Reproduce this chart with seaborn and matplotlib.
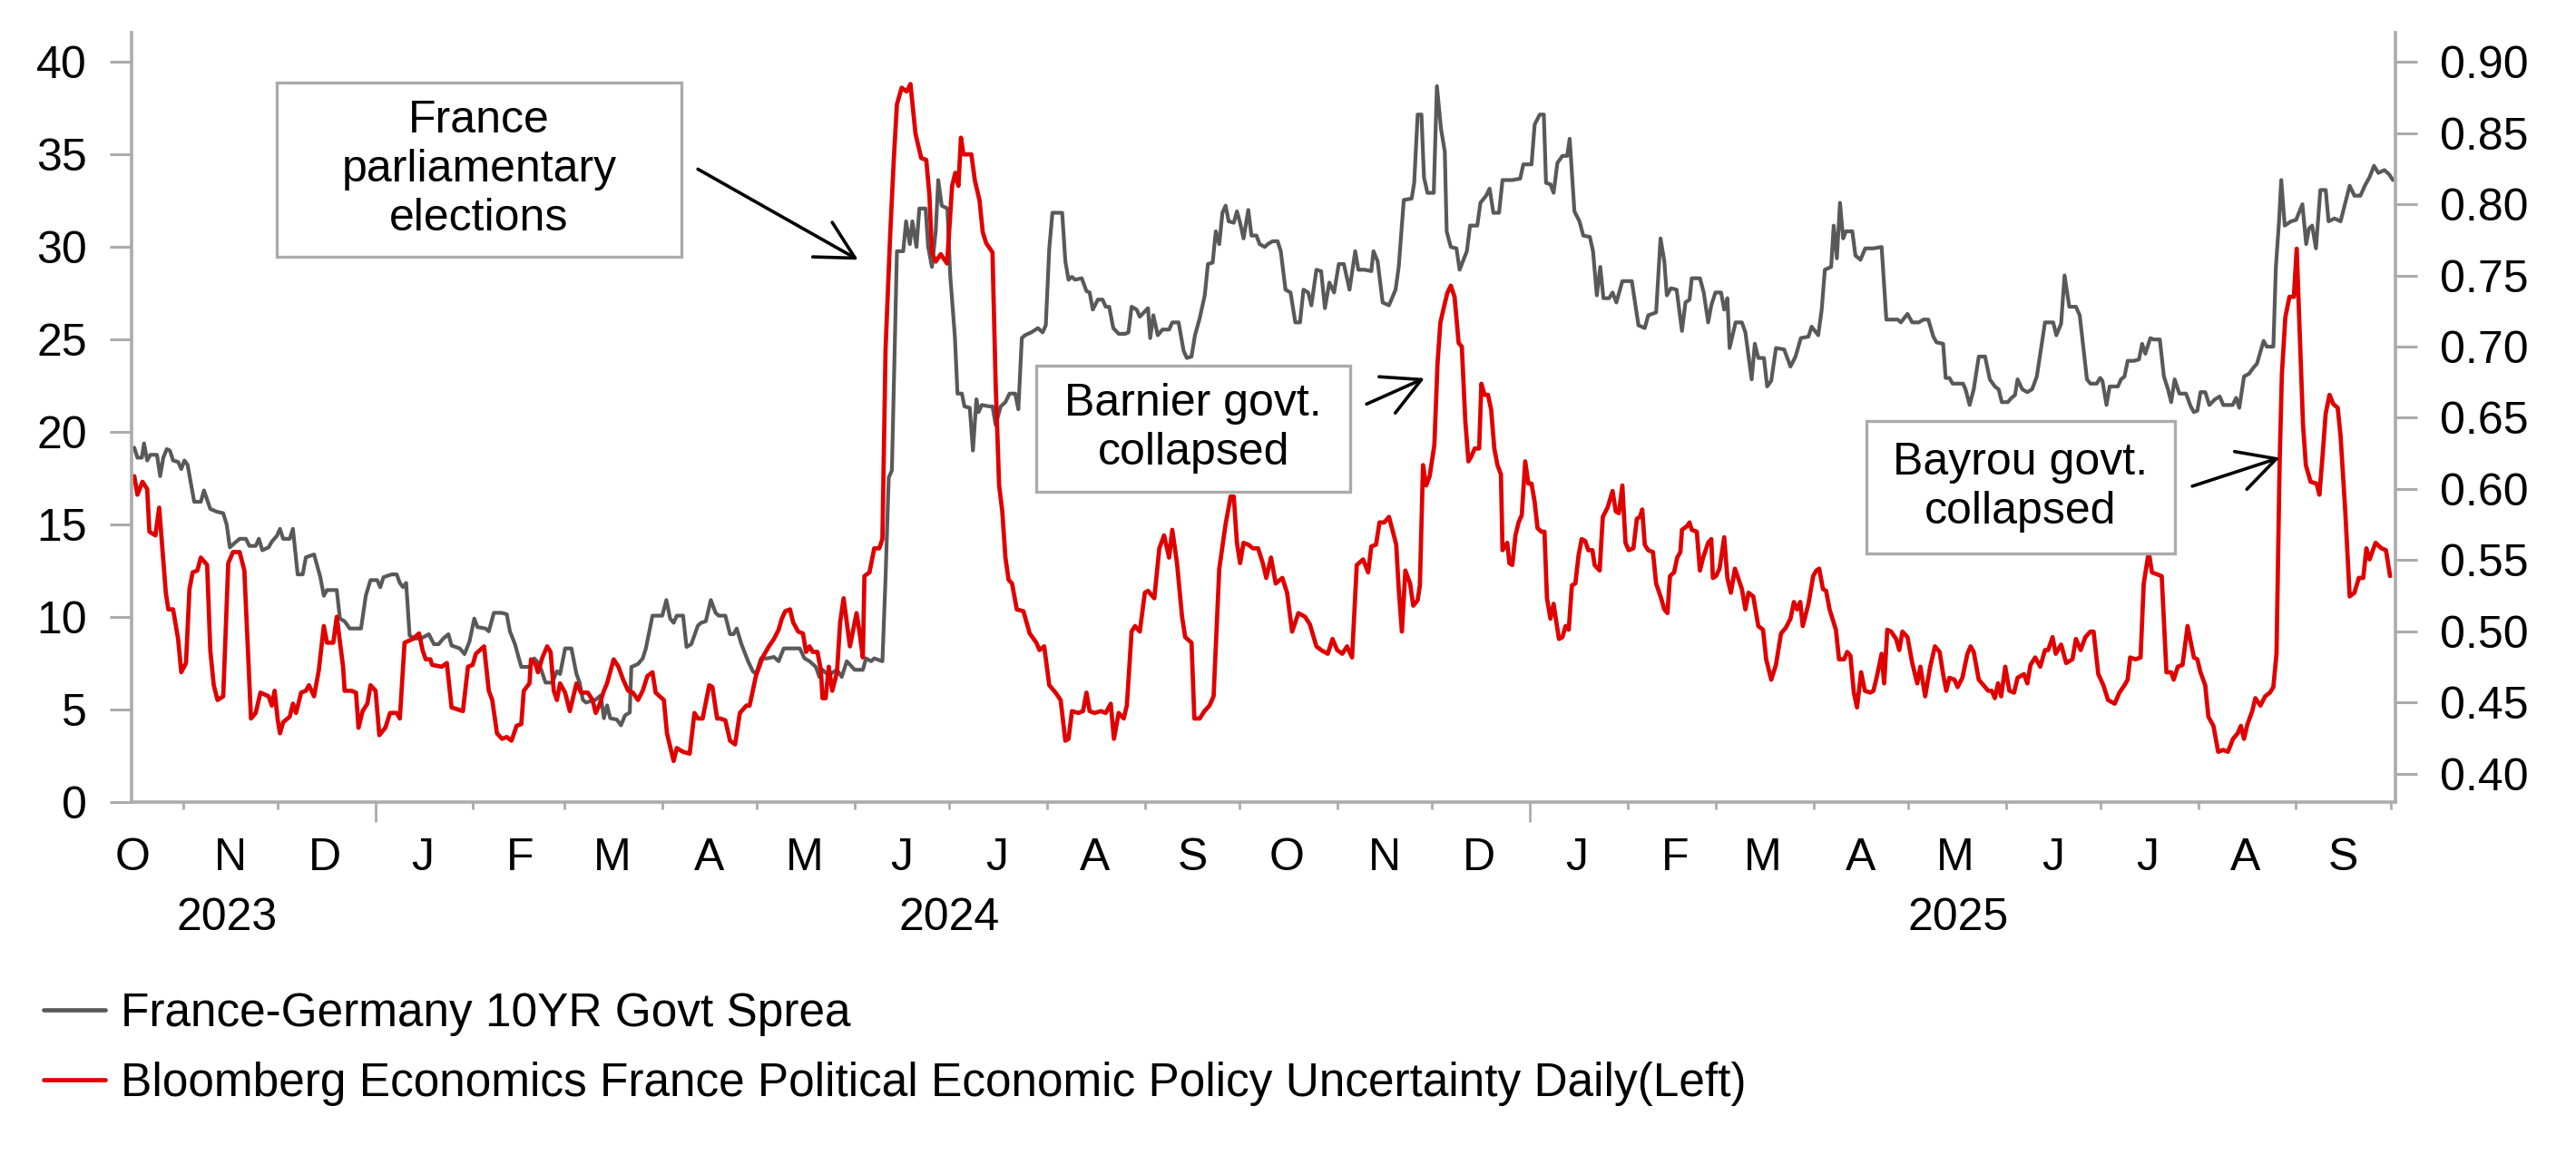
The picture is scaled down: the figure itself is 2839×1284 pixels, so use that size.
import matplotlib
matplotlib.use("Agg")
import matplotlib.dates as mdates
import matplotlib.pyplot as plt
import matplotlib.transforms as mtransforms
import numpy as np
import pandas as pd
import seaborn as sns
from matplotlib.lines import Line2D
from matplotlib.patches import Rectangle

# x positions are days counted from 2024-01-01
BASE = pd.Timestamp("2024-01-01")

# Bloomberg Economics France political EPU (left axis)
red_day = [
    -76.4, -75.4, -73.8, -72.3, -71.6, -69.7, -68.5, -66.4, -65.6, -64.1,
    -62.5, -61.5, -60.0, -58.9, -57.9, -56.4, -55.3, -53.3, -52.3, -51.2,
    -50.0, -48.2, -46.6, -45.1, -43.0, -41.5, -39.4, -37.9, -36.4, -33.8,
    -32.8, -31.9, -30.9, -30.2, -29.2, -27.1, -26.1, -25.1, -23.5, -22.0,
    -21.0, -19.4, -17.9, -16.3, -15.3, -13.3, -12.2, -10.2, -9.7, -7.6,
    -6.1, -5.3, -4.0, -2.5, -1.5, 0.1, 1.3, 3.2, 4.7, 6.8,
    7.8, 9.3, 11.9, 13.9, 15.0, 16.0, 17.5, 18.0, 21.1, 22.7,
    24.2, 27.8, 29.4, 30.9, 31.9, 34.5, 36.0, 37.1, 38.6, 40.2,
    41.7, 43.2, 44.8, 46.3, 47.1, 48.9, 49.4, 50.9, 51.6, 53.0,
    54.5, 55.6, 56.6, 57.6, 58.6, 60.2, 61.7, 63.8, 65.3, 67.4,
    68.9, 69.9, 71.0, 72.5, 73.5, 75.6, 77.1, 78.6, 80.2, 81.7,
    83.3, 84.8, 86.3, 87.9, 88.9, 91.5, 92.5, 94.6, 95.6, 97.6,
    99.7, 101.2, 102.3, 103.8, 105.9, 106.9, 108.4, 109.4, 111.0, 112.5,
    114.1, 115.6, 117.7, 118.7, 120.7, 122.8, 124.8, 126.4, 127.9, 128.9,
    130.0, 131.5, 132.5, 134.1, 135.6, 136.6, 137.7, 138.7, 140.2, 141.3,
    141.8, 142.8, 143.8, 144.9, 146.4, 147.4, 148.5, 150.5, 152.6, 153.6,
    154.6, 155.1, 156.7, 158.2, 159.8, 160.8, 161.8, 163.3, 164.4, 165.4,
    166.9, 168.5, 169.7, 171.3, 173.1, 174.7, 175.7, 176.5, 177.7, 179.3,
    181.3, 182.9, 183.9, 184.9, 185.7, 186.5, 189.0, 190.1, 191.6, 192.6,
    193.7, 195.7, 196.7, 197.8, 198.8, 199.8, 200.8, 201.9, 203.4, 205.5,
    207.5, 209.6, 210.6, 212.1, 213.7, 215.7, 217.3, 218.8, 219.8, 220.9,
    222.9, 224.4, 225.5, 226.5, 228.0, 230.1, 231.6, 233.2, 234.2, 235.7,
    237.3, 238.3, 239.8, 240.9, 242.4, 244.0, 245.0, 247.0, 248.6, 250.1,
    251.7, 252.7, 254.2, 255.8, 256.8, 258.8, 259.7, 261.4, 262.9, 264.5,
    265.8, 267.6, 269.6, 271.2, 272.2, 273.2, 274.2, 275.3, 276.8, 278.3,
    279.9, 281.4, 282.5, 284.0, 285.5, 287.6, 289.1, 290.7, 292.7, 294.8,
    296.3, 298.4, 299.9, 302.0, 303.5, 305.0, 306.6, 308.1, 309.7, 311.2,
    313.2, 314.8, 315.8, 317.3, 318.4, 319.9, 321.4, 322.5, 323.7, 324.5,
    325.5, 326.6, 328.1, 329.1, 330.5, 331.2, 332.2, 333.2, 334.3, 335.8,
    336.8, 337.7, 338.9, 339.9, 341.0, 342.2, 343.5, 344.5, 345.6, 346.6,
    347.6, 348.6, 350.0, 350.7, 351.7, 352.8, 353.8, 354.8, 355.8, 356.9,
    357.4, 358.9, 359.6, 360.5, 361.5, 362.5, 363.5, 364.6, 365.6, 366.6,
    367.6, 368.5, 369.7, 370.7, 371.5, 372.6, 373.6, 374.3, 375.3, 376.4,
    377.4, 378.4, 379.4, 380.5, 381.5, 382.5, 383.6, 384.6, 385.9, 386.6,
    388.2, 389.2, 390.7, 392.3, 393.3, 394.3, 395.4, 396.4, 397.4, 398.9,
    400.0, 401.0, 401.7, 402.5, 403.6, 405.1, 406.1, 407.7, 408.7, 409.7,
    410.5, 411.8, 412.8, 413.8, 414.3, 415.9, 416.7, 417.4, 419.0, 420.0,
    421.0, 422.6, 423.6, 424.1, 425.1, 426.2, 427.7, 428.7, 429.8, 431.1,
    432.3, 433.3, 434.4, 435.4, 436.9, 438.5, 440.0, 441.0, 442.6, 444.1,
    445.7, 447.2, 448.7, 449.8, 450.8, 451.8, 452.6, 454.4, 455.9, 456.9,
    457.8, 459.0, 460.0, 461.1, 463.1, 464.1, 465.7, 466.7, 467.7, 468.8,
    469.8, 471.1, 472.3, 474.0, 475.0, 476.0, 477.6, 478.4, 479.4, 480.6,
    482.2, 483.2, 484.2, 485.8, 487.3, 488.9, 489.9, 491.4, 493.0, 494.5,
    496.0, 497.1, 498.1, 499.1, 500.7, 501.7, 503.2, 504.8, 505.8, 506.8,
    508.4, 509.9, 511.4, 512.5, 513.5, 514.5, 515.5, 516.8, 518.1, 519.6,
    520.7, 522.7, 523.8, 524.8, 526.3, 527.9, 529.4, 530.4, 531.8, 532.8,
    534.5, 536.1, 538.1, 539.2, 540.7, 542.2, 543.8, 544.8, 546.3, 547.9,
    549.4, 551.5, 553.0, 554.6, 555.6, 556.4, 558.1, 559.7, 560.7, 562.3,
    563.3, 566.4, 567.9, 569.4, 570.2, 571.5, 573.0, 574.6, 576.6, 577.7,
    578.7, 580.2, 581.2, 582.8, 584.3, 585.9, 587.4, 589.0, 590.5, 591.5,
    592.5, 593.6, 595.1, 596.1, 597.7, 599.2, 600.7, 601.8, 602.8, 603.8,
    604.5, 605.6, 606.9, 608.3, 609.2, 610.2, 611.2, 612.1, 613.6, 615.5,
    616.4, 617.4, 618.4, 619.6, 620.8, 622.2, 623.1, 624.6, 626.0, 627.5,
    628.9, 630.3, 631.3, 632.3, 634.2, 636.1, 637.5, 638.8,
]
red_value = [
    17.6, 16.6, 17.3, 16.9, 14.6, 14.4, 15.9, 11.3, 10.4, 10.4,
    8.8, 7.0, 7.5, 11.5, 12.4, 12.5, 13.2, 12.8, 8.2, 6.3,
    5.5, 5.7, 12.9, 13.5, 13.5, 12.5, 4.5, 4.8, 5.9, 5.7,
    5.2, 6.0, 4.4, 3.7, 4.3, 4.6, 5.3, 4.8, 5.9, 6.0,
    6.3, 5.7, 7.1, 9.5, 8.6, 8.6, 10.0, 7.3, 6.0, 6.0,
    5.9, 4.0, 4.9, 5.3, 6.3, 6.0, 3.6, 4.0, 4.8, 4.8,
    4.5, 8.6, 8.8, 9.1, 8.2, 7.7, 7.7, 7.4, 7.3, 7.5,
    5.1, 4.9, 7.3, 7.4, 8.0, 8.4, 6.0, 5.5, 3.7, 3.4,
    3.5, 3.3, 4.1, 4.2, 6.0, 6.4, 7.7, 7.4, 7.0, 7.8,
    8.4, 8.1, 6.0, 5.5, 6.4, 5.9, 4.9, 6.4, 5.9, 5.9,
    5.5, 4.8, 5.2, 6.0, 6.4, 7.7, 7.3, 6.6, 6.0, 5.9,
    5.5, 6.0, 6.8, 7.0, 5.9, 5.5, 3.7, 2.2, 2.9, 2.7,
    2.6, 4.8, 4.5, 4.5, 6.3, 6.2, 4.5, 4.5, 4.4, 3.3,
    3.1, 4.8, 5.2, 5.2, 6.8, 7.8, 8.4, 8.8, 9.3, 9.9,
    10.3, 10.4, 9.7, 9.2, 9.1, 8.1, 8.4, 8.1, 8.1, 7.1,
    5.6, 5.6, 7.3, 6.0, 7.0, 9.7, 11.0, 8.4, 10.2, 9.1,
    7.8, 12.2, 12.4, 13.7, 13.7, 14.2, 24.5, 30.8, 34.7, 37.7,
    38.6, 38.4, 38.8, 36.1, 34.8, 34.7, 32.8, 29.7, 29.2, 29.6,
    29.1, 33.3, 34.0, 33.3, 35.9, 35.0, 35.0, 33.6, 32.5, 30.8,
    30.2, 29.7, 22.6, 17.1, 15.7, 13.2, 12.0, 11.8, 10.4, 10.3,
    9.1, 8.6, 8.2, 8.4, 6.3, 5.9, 5.5, 3.3, 3.4, 4.9,
    4.8, 4.9, 5.9, 4.9, 4.8, 4.9, 4.8, 5.3, 3.4, 4.8,
    4.5, 5.2, 9.2, 9.5, 9.2, 11.3, 11.4, 11.0, 13.7, 14.4,
    13.2, 14.7, 12.9, 10.0, 8.9, 8.6, 4.5, 4.5, 4.9, 5.2,
    5.7, 12.6, 15.0, 16.5, 16.5, 14.0, 12.9, 14.0, 13.9, 13.7,
    13.7, 12.9, 12.1, 13.2, 11.8, 12.1, 11.3, 9.2, 10.2, 10.0,
    9.6, 8.4, 8.2, 8.0, 8.8, 8.2, 8.0, 8.4, 7.8, 12.8,
    13.1, 12.4, 13.8, 13.9, 15.1, 15.1, 15.4, 14.7, 13.9, 11.5,
    9.2, 12.5, 11.8, 10.6, 10.9, 11.7, 18.2, 17.1, 17.6, 19.3,
    23.7, 25.9, 26.8, 27.5, 27.9, 27.3, 24.8, 24.6, 20.6, 18.4,
    18.7, 19.1, 19.1, 22.6, 22.0, 22.0, 21.2, 19.1, 18.2, 17.7,
    13.6, 14.0, 12.9, 12.8, 14.4, 15.1, 15.5, 18.4, 17.2, 17.2,
    16.2, 14.8, 14.6, 14.6, 11.0, 9.9, 10.7, 9.9, 8.8, 8.9,
    9.5, 9.3, 11.7, 11.8, 13.3, 14.2, 14.1, 13.6, 13.6, 12.8,
    12.5, 15.4, 15.9, 16.8, 15.7, 15.6, 17.1, 14.0, 13.6, 13.7,
    15.3, 15.4, 15.8, 13.9, 13.6, 13.5, 11.8, 11.0, 10.4, 10.2,
    12.2, 12.4, 13.2, 13.5, 14.7, 14.9, 15.1, 14.7, 14.6, 12.5,
    13.2, 14.0, 14.2, 12.1, 12.2, 12.6, 14.3, 12.1, 11.3, 12.6,
    12.0, 11.5, 10.4, 11.3, 11.1, 9.5, 9.3, 7.7, 6.6, 7.4,
    9.1, 9.4, 9.9, 10.8, 10.4, 10.8, 9.5, 10.7, 12.2, 12.5,
    12.6, 11.5, 11.4, 10.4, 9.3, 7.7, 7.7, 8.1, 7.9, 5.9,
    5.1, 7.0, 6.0, 5.9, 6.0, 6.7, 8.0, 6.4, 9.3, 9.2,
    8.8, 8.2, 9.2, 8.9, 7.5, 6.4, 7.3, 5.7, 7.3, 8.4,
    8.1, 6.9, 6.0, 6.7, 6.6, 6.2, 6.7, 8.0, 8.4, 8.1,
    6.6, 6.3, 6.0, 6.0, 5.6, 6.4, 5.7, 7.3, 6.0, 5.9,
    6.7, 6.9, 6.4, 7.4, 7.8, 7.3, 8.2, 8.2, 8.9, 8.0,
    8.5, 7.5, 7.7, 8.8, 8.2, 8.9, 9.2, 9.2, 6.9, 6.3,
    5.5, 5.3, 5.9, 6.3, 6.6, 7.8, 7.7, 7.8, 11.8, 13.5,
    12.4, 12.2, 7.0, 7.0, 6.6, 7.3, 7.4, 9.5, 7.8, 7.7,
    7.0, 6.3, 4.6, 4.1, 2.7, 2.8, 2.7, 3.4, 3.7, 4.1,
    3.4, 4.2, 4.9, 5.6, 5.2, 5.7, 5.9, 6.2, 8.0, 18.4,
    23.1, 26.2, 27.3, 27.3, 29.9, 25.1, 20.4, 18.2, 17.3, 17.2,
    16.6, 18.7, 21.0, 22.0, 21.5, 21.3, 19.8, 15.7, 11.1, 11.3,
    12.1, 12.1, 13.7, 13.1, 14.0, 13.7, 13.6, 12.2,
]

# France-Germany 10Y spread (right axis)
grey_day = [
    -76.4, -75.4, -74.0, -73.3, -72.3, -71.3, -69.2, -68.2, -67.2, -66.1,
    -65.1, -64.1, -62.5, -61.5, -60.5, -59.5, -57.4, -55.3, -54.3, -52.3,
    -50.2, -48.2, -47.1, -46.1, -44.6, -43.0, -41.0, -39.9, -37.9, -36.9,
    -35.8, -33.8, -32.8, -31.2, -30.2, -29.2, -27.1, -26.1, -24.6, -23.0,
    -22.0, -19.4, -17.4, -16.3, -15.3, -12.2, -11.2, -9.7, -8.1, -4.5,
    -3.0, -1.5, 0.6, 1.6, 2.6, 5.2, 6.8, 7.8, 8.8, 9.8,
    10.9, 12.4, 14.5, 17.0, 18.6, 20.1, 21.6, 23.2, 24.2, 26.8,
    28.3, 29.9, 31.4, 32.4, 35.0, 36.0, 37.6, 40.1, 41.7, 42.7,
    44.3, 46.3, 48.9, 50.4, 52.0, 54.0, 56.1, 57.6, 58.6, 60.2,
    62.2, 63.8, 64.8, 65.8, 66.8, 69.9, 71.5, 72.5, 73.5, 74.5,
    76.6, 77.9, 79.2, 80.7, 81.2, 83.3, 84.8, 85.8, 87.9, 91.0,
    92.3, 93.5, 94.6, 95.6, 97.6, 98.7, 100.2, 102.3, 103.3, 104.8,
    106.4, 107.9, 108.9, 111.0, 112.5, 113.6, 114.6, 116.1, 118.2, 119.7,
    120.7, 122.3, 124.3, 126.4, 127.9, 129.5, 132.5, 134.6, 136.1, 137.7,
    139.7, 140.8, 141.8, 143.3, 144.3, 146.4, 147.9, 149.5, 152.0, 154.6,
    155.6, 157.2, 158.2, 160.8, 161.8, 162.8, 163.8, 165.4, 167.4, 168.3,
    169.5, 170.3, 171.6, 172.5, 174.5, 175.3, 176.5, 177.7, 178.5, 179.6,
    181.4, 182.3, 183.8, 184.6, 186.0, 186.8, 188.5, 189.5, 190.6, 191.3,
    192.3, 194.7, 195.7, 196.7, 198.3, 199.8, 201.1, 202.9, 203.9, 205.0,
    206.0, 208.0, 210.1, 211.6, 212.6, 213.7, 214.7, 217.8, 218.8, 219.8,
    220.9, 221.9, 224.0, 225.5, 226.5, 227.5, 229.1, 230.6, 231.6, 232.7,
    234.0, 235.7, 237.8, 238.8, 239.8, 241.4, 242.4, 245.0, 245.7, 246.7,
    248.1, 249.6, 251.7, 252.7, 254.7, 256.3, 257.3, 258.8, 259.9, 261.4,
    263.0, 264.0, 265.5, 266.5, 267.6, 268.6, 269.6, 270.6, 272.2, 273.2,
    274.2, 275.3, 276.8, 277.8, 279.4, 280.4, 282.0, 283.0, 284.5, 286.1,
    287.1, 288.6, 290.2, 291.7, 293.2, 294.3, 295.8, 296.8, 298.4, 299.9,
    301.1, 302.5, 304.0, 305.5, 307.1, 308.9, 310.7, 311.7, 313.7, 315.8,
    316.5, 317.8, 319.4, 321.4, 323.5, 324.5, 326.1, 328.6, 329.4, 330.5,
    331.7, 332.5, 333.6, 335.6, 336.6, 337.9, 339.1, 339.7, 341.0, 342.8,
    343.8, 346.1, 347.1, 349.4, 350.4, 352.2, 353.3, 354.5, 356.3, 357.4,
    360.5, 363.0, 364.0, 366.6, 367.6, 369.2, 370.5, 371.2, 372.6, 373.6,
    374.8, 376.4, 377.9, 378.7, 380.2, 381.8, 383.0, 385.1, 386.1, 387.3,
    388.4, 389.4, 391.2, 392.3, 393.5, 395.4, 398.4, 400.5, 402.5, 403.6,
    406.1, 407.5, 408.7, 409.5, 410.8, 412.6, 414.3, 415.4, 416.7, 417.4,
    420.0, 421.2, 422.6, 423.6, 424.9, 426.7, 427.7, 428.7, 429.4, 431.3,
    433.3, 434.4, 436.4, 437.4, 438.5, 440.3, 441.3, 442.6, 444.1, 446.7,
    448.7, 450.3, 452.0, 454.4, 455.4, 457.5, 458.6, 459.6, 461.6, 462.4,
    463.4, 464.4, 465.4, 466.3, 468.3, 469.3, 470.9, 472.4, 475.0, 477.6,
    479.1, 482.7, 483.7, 485.8, 487.3, 489.4, 490.9, 492.4, 494.0, 495.0,
    497.1, 497.9, 499.1, 500.1, 503.4, 504.2, 505.5, 506.8, 508.4, 510.4,
    511.9, 513.5, 514.7, 515.7, 517.6, 518.8, 519.9, 520.7, 522.2, 523.8,
    525.3, 526.8, 529.4, 532.0, 533.0, 534.5, 535.6, 537.1, 539.2, 540.4,
    542.7, 543.8, 545.8, 546.9, 547.6, 548.9, 549.9, 552.5, 553.5, 554.6,
    555.6, 557.6, 559.2, 560.2, 561.2, 562.8, 563.8, 565.8, 567.1, 568.4,
    569.4, 570.5, 572.0, 574.1, 575.6, 576.6, 577.7, 578.7, 580.2, 581.5,
    583.3, 584.8, 585.9, 588.9, 590.0, 591.0, 592.5, 594.1, 595.4, 596.6,
    598.7, 599.7, 601.8, 602.6, 603.6, 604.3, 605.4, 607.4, 609.0, 611.0,
    612.2, 613.1, 614.1, 615.3, 616.7, 618.4, 619.3, 621.2, 623.1, 624.6,
    626.0, 627.5, 629.4, 630.8, 632.3, 633.7, 635.1, 637.0, 638.5, 639.7,
]
grey_value = [
    0.629, 0.622, 0.622, 0.632, 0.620, 0.624, 0.624, 0.609, 0.622, 0.628,
    0.627, 0.620, 0.619, 0.614, 0.620, 0.617, 0.591, 0.591, 0.599, 0.586,
    0.584, 0.583, 0.575, 0.559, 0.562, 0.565, 0.565, 0.560, 0.560, 0.565,
    0.557, 0.559, 0.563, 0.567, 0.572, 0.565, 0.565, 0.572, 0.540, 0.540,
    0.552, 0.554, 0.538, 0.525, 0.529, 0.529, 0.509, 0.507, 0.502, 0.502,
    0.525, 0.536, 0.536, 0.531, 0.538, 0.540, 0.540, 0.534, 0.531, 0.534,
    0.497, 0.495, 0.495, 0.498, 0.491, 0.491, 0.495, 0.498, 0.490, 0.488,
    0.484, 0.493, 0.509, 0.503, 0.502, 0.500, 0.513, 0.513, 0.512, 0.500,
    0.491, 0.475, 0.475, 0.481, 0.477, 0.464, 0.464, 0.472, 0.470, 0.488,
    0.488, 0.470, 0.464, 0.452, 0.450, 0.452, 0.455, 0.439, 0.448, 0.439,
    0.438, 0.434, 0.441, 0.443, 0.475, 0.477, 0.481, 0.488, 0.511, 0.511,
    0.522, 0.509, 0.506, 0.511, 0.511, 0.489, 0.491, 0.504, 0.506, 0.507,
    0.522, 0.513, 0.511, 0.511, 0.498, 0.498, 0.502, 0.491, 0.479, 0.472,
    0.470, 0.481, 0.481, 0.482, 0.479, 0.488, 0.488, 0.488, 0.481, 0.479,
    0.475, 0.468, 0.473, 0.470, 0.470, 0.473, 0.468, 0.479, 0.473, 0.473,
    0.481, 0.479, 0.481, 0.479, 0.538, 0.608, 0.613, 0.767, 0.767, 0.788,
    0.772, 0.788, 0.770, 0.797, 0.797, 0.770, 0.756, 0.781, 0.817, 0.799,
    0.797, 0.750, 0.706, 0.667, 0.667, 0.658, 0.657, 0.627, 0.663, 0.654,
    0.659, 0.658, 0.658, 0.645, 0.658, 0.661, 0.667, 0.667, 0.656, 0.706,
    0.708, 0.710, 0.713, 0.710, 0.715, 0.769, 0.794, 0.794, 0.760, 0.747,
    0.749, 0.747, 0.748, 0.739, 0.738, 0.726, 0.733, 0.733, 0.728, 0.728,
    0.713, 0.709, 0.709, 0.710, 0.728, 0.726, 0.721, 0.727, 0.706, 0.722,
    0.708, 0.712, 0.712, 0.717, 0.717, 0.697, 0.692, 0.693, 0.708, 0.720,
    0.736, 0.758, 0.759, 0.781, 0.772, 0.794, 0.799, 0.788, 0.787, 0.795,
    0.787, 0.776, 0.796, 0.778, 0.778, 0.772, 0.770, 0.772, 0.774, 0.774,
    0.767, 0.740, 0.738, 0.717, 0.717, 0.740, 0.738, 0.729, 0.754, 0.753,
    0.727, 0.745, 0.738, 0.758, 0.758, 0.740, 0.767, 0.754, 0.754, 0.753,
    0.767, 0.760, 0.731, 0.729, 0.740, 0.756, 0.803, 0.804, 0.815, 0.863,
    0.863, 0.819, 0.808, 0.808, 0.883, 0.853, 0.837, 0.781, 0.770, 0.769,
    0.754, 0.767, 0.785, 0.785, 0.801, 0.806, 0.811, 0.794, 0.794, 0.817,
    0.817, 0.818, 0.828, 0.828, 0.856, 0.863, 0.863, 0.815, 0.814, 0.808,
    0.829, 0.834, 0.834, 0.846, 0.795, 0.788, 0.778, 0.777, 0.767, 0.736,
    0.756, 0.734, 0.734, 0.738, 0.731, 0.746, 0.746, 0.715, 0.713, 0.722,
    0.724, 0.776, 0.760, 0.736, 0.741, 0.740, 0.711, 0.731, 0.733, 0.748,
    0.748, 0.738, 0.717, 0.729, 0.738, 0.738, 0.726, 0.734, 0.699, 0.717,
    0.717, 0.710, 0.677, 0.702, 0.692, 0.692, 0.672, 0.676, 0.699, 0.698,
    0.686, 0.693, 0.706, 0.707, 0.714, 0.708, 0.726, 0.754, 0.756, 0.785,
    0.762, 0.801, 0.776, 0.781, 0.781, 0.764, 0.761, 0.769, 0.769, 0.770,
    0.719, 0.719, 0.717, 0.723, 0.717, 0.717, 0.719, 0.719, 0.707, 0.703,
    0.702, 0.678, 0.678, 0.674, 0.674, 0.670, 0.659, 0.670, 0.693, 0.693,
    0.677, 0.672, 0.670, 0.661, 0.661, 0.664, 0.666, 0.677, 0.670, 0.668,
    0.670, 0.679, 0.717, 0.717, 0.708, 0.716, 0.750, 0.728, 0.728, 0.722,
    0.677, 0.674, 0.674, 0.678, 0.676, 0.659, 0.672, 0.672, 0.677, 0.679,
    0.690, 0.690, 0.691, 0.702, 0.695, 0.706, 0.705, 0.705, 0.679, 0.670,
    0.661, 0.677, 0.667, 0.667, 0.658, 0.654, 0.655, 0.668, 0.668, 0.659,
    0.663, 0.665, 0.659, 0.659, 0.664, 0.657, 0.679, 0.681, 0.685, 0.688,
    0.704, 0.700, 0.700, 0.756, 0.788, 0.817, 0.785, 0.788, 0.789, 0.800,
    0.772, 0.783, 0.785, 0.769, 0.810, 0.810, 0.788, 0.790, 0.788, 0.801,
    0.813, 0.806, 0.806, 0.813, 0.819, 0.827, 0.822, 0.824, 0.821, 0.817,
]

month_labels = ["O", "N", "D", "J", "F", "M", "A", "M", "J", "J", "A", "S",
                "O", "N", "D", "J", "F", "M", "A", "M", "J", "J", "A", "S"]
year_labels = ["2023", "2024", "2025"]
left_ticks = [0, 5, 10, 15, 20, 25, 30, 35, 40]
right_ticks = [0.40, 0.45, 0.50, 0.55, 0.60, 0.65, 0.70, 0.75, 0.80, 0.85, 0.90]
grey_label = "France-Germany 10YR Govt Sprea"
red_label = "Bloomberg Economics France Political Economic Policy Uncertainty Daily(Left)"

RED = "#e00000"
GREY = "#595959"
AXIS = "#ababab"
FS = 36


def to_dates(days):
    return BASE + pd.to_timedelta(np.asarray(days, dtype=float), unit="D")


sns.set_theme(style="white")
plt.rcParams["font.family"] = ["Liberation Sans", "DejaVu Sans"]

fig = plt.figure(figsize=(28.39, 12.84), dpi=100)
ax = fig.add_axes([0.0509, 0.3118, 0.8790, 0.6605])
ax2 = ax.twinx()

red = pd.DataFrame({"date": to_dates(red_day), "value": red_value})
grey = pd.DataFrame({"date": to_dates(grey_day), "value": grey_value})

sns.lineplot(data=grey, x="date", y="value", ax=ax2, color=GREY, linewidth=3.0,
             estimator=None, sort=False, legend=False)
sns.lineplot(data=red, x="date", y="value", ax=ax, color=RED, linewidth=3.4,
             estimator=None, sort=False, legend=False)
ax.set_zorder(ax2.get_zorder() + 1)
ax.patch.set_visible(False)

x0, x1 = to_dates([-77.4, 640.5])
ax.set_xlim(x0, x1)
ax.set_ylim(0, 41.6)
ax2.set_ylim(0.3803, 0.9208)
for a in (ax, ax2):
    a.set_xlabel("")
    a.set_ylabel("")
    for s in a.spines.values():
        s.set_color(AXIS)
        s.set_linewidth(2.6)
    a.spines["top"].set_visible(False)
ax.spines["right"].set_visible(False)
ax2.spines["left"].set_visible(False)
ax2.spines["bottom"].set_visible(False)

ax.set_yticks(left_ticks)
ax.set_yticklabels([str(t) for t in left_ticks])
ax2.set_yticks(right_ticks)
ax2.set_yticklabels([f"{t:.2f}" for t in right_ticks])
ax.tick_params(axis="y", left=True, direction="out", length=17, width=2.2,
               color=AXIS, pad=18, labelsize=FS, labelcolor="black")
ax2.tick_params(axis="y", right=True, direction="out", length=17, width=2.2,
                color=AXIS, pad=18, labelsize=FS, labelcolor="black")

ax.xaxis.set_major_locator(mdates.YearLocator())
ax.xaxis.set_minor_locator(mdates.MonthLocator())
ax.xaxis.set_major_formatter(plt.NullFormatter())
ax.xaxis.set_minor_formatter(plt.NullFormatter())
ax.tick_params(axis="x", which="major", bottom=True, direction="out", length=16,
               width=2.0, color=AXIS)
ax.tick_params(axis="x", which="minor", bottom=True, direction="out", length=6,
               width=2.0, color=AXIS)

trans = mtransforms.blended_transform_factory(ax.transData, ax.transAxes)
month_starts = pd.date_range("2023-10-01", periods=len(month_labels), freq="MS")
for start, letter in zip(month_starts, month_labels):
    mid = mdates.date2num(start + pd.Timedelta(days=15))
    ax.text(mid, -0.0731, letter, transform=trans, ha="center", va="center",
            fontsize=FS, color="black", clip_on=False)
year_pos = pd.to_datetime(["2023-11-15", "2024-07-01", "2025-05-17"])
for pos, label in zip(year_pos, year_labels):
    ax.text(mdates.date2num(pos), -0.151, label, transform=trans, ha="center",
            va="center", fontsize=FS, color="black", clip_on=False)

# annotation boxes (figure fraction: x0, y0, w, h)
boxes = [
    ((0.1074, 0.7796, 0.1571, 0.1495), "France\nparliamentary\nelections"),
    ((0.4023, 0.5779, 0.1219, 0.1083), "Barnier govt.\ncollapsed"),
    ((0.7245, 0.5249, 0.1198, 0.1137), "Bayrou govt.\ncollapsed"),
]
for (bx, by, bw, bh), text in boxes:
    fig.patches.append(Rectangle((bx, by), bw, bh, transform=fig.transFigure,
                                 facecolor="white", edgecolor=AXIS, linewidth=2.4,
                                 zorder=5))
    fig.text(bx + bw / 2, by + bh / 2, text, ha="center", va="center",
             fontsize=FS, linespacing=1.22, color="black", zorder=6)

arrows = [((102.3, 34.2), (153.1, 29.3)),
          ((314.3, 21.5), (332.7, 22.9)),
          ((576.1, 17.06), (603.8, 18.6))]
for (td, tv), (hd, hv) in arrows:
    tail = mdates.date2num(to_dates([td])[0])
    head = mdates.date2num(to_dates([hd])[0])
    ax.annotate("", xy=(head, hv), xytext=(tail, tv), xycoords="data",
                arrowprops=dict(arrowstyle="->,head_length=0.85,head_width=0.45",
                                color="black", lw=2.6, shrinkA=0, shrinkB=0,
                                mutation_scale=35))

handles = [Line2D([], [], color=GREY, lw=3.4), Line2D([], [], color=RED, lw=3.4)]
fig.legend(handles, [grey_label, red_label], loc="upper left",
           bbox_to_anchor=(0.0170, 0.1490), frameon=False, fontsize=37,
           labelcolor="black", handlelength=1.32, handletextpad=0.33,
           labelspacing=0.55, borderpad=0, borderaxespad=0)

fig.savefig("out.png", dpi=100)
